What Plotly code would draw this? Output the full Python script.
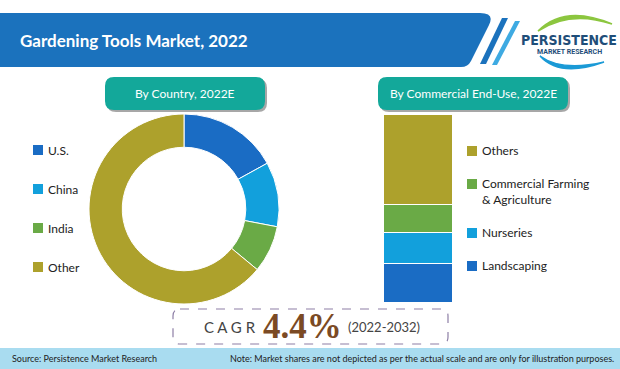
import plotly.graph_objects as go

W, H = 620, 369

# ---------------- data ----------------
country_labels = ["U.S.", "China", "India", "Other"]
country_values = [17, 11, 8, 64]
country_colors = ["#1a6cc4", "#12a0dc", "#6aaa46", "#ada12c"]

enduse_labels = ["Landscaping", "Nurseries", "Commercial Farming<br>& Agriculture", "Others"]
enduse_values = [21, 16, 15, 48]
enduse_colors = ["#1a6cc4", "#12a0dc", "#6aaa46", "#ada12c"]

title_text = "Gardening Tools Market, 2022"
tab1_text = "By Country, 2022E"
tab2_text = "By Commercial End-Use, 2022E"
cagr_value = "4.4%"
cagr_period = "(2022-2032)"
source_text = "Source: Persistence Market Research"
note_text = "Note: Market shares are not depicted as per the actual scale and are only for illustration purposes."


def X(px):
    return px / W


def Y(py):
    return 1 - py / H


def path(cmds):
    out = []
    for c in cmds:
        if isinstance(c, str):
            out.append(c)
        else:
            out.append(f"{X(c[0]):.5f},{Y(c[1]):.5f}")
    return " ".join(out)


def rrect(x0, y0, x1, y1, r):
    return path(["M", (x0 + r, y0), "L", (x1 - r, y0), "Q", (x1, y0), (x1, y0 + r),
                 "L", (x1, y1 - r), "Q", (x1, y1), (x1 - r, y1),
                 "L", (x0 + r, y1), "Q", (x0, y1), (x0, y1 - r),
                 "L", (x0, y0 + r), "Q", (x0, y0), (x0 + r, y0), "Z"])


fig = go.Figure()

# donut
fig.add_trace(go.Pie(
    labels=country_labels, values=country_values,
    marker=dict(colors=country_colors, line=dict(color="white", width=1)),
    hole=0.65, sort=False, direction="clockwise", rotation=0,
    textinfo="none", showlegend=False,
    domain=dict(x=[X(89), X(279)], y=[Y(304), Y(114)]),
))

# stacked bar
for lab, val, col in zip(enduse_labels, enduse_values, enduse_colors):
    fig.add_trace(go.Bar(
        x=[0], y=[val], name=lab, width=1,
        marker=dict(color=col, line=dict(color="white", width=1.5)),
        showlegend=False,
    ))

shapes = []
annotations = []

# header band
shapes.append(dict(type="path", xref="paper", yref="paper", layer="below",
                   path=path(["M", (0, 13), "L", (480, 13), "Q", (495, 13), (489, 25),
                              "L", (471, 61), "Q", (468, 67), (461, 67), "L", (0, 67), "Z"]),
                   fillcolor="#1b72bd", line=dict(width=0)))
# stripes
shapes.append(dict(type="path", xref="paper", yref="paper",
                   path=path(["M", (502, 18), "L", (508, 18), "L", (486, 64), "L", (480, 64), "Z"]),
                   fillcolor="#1b72bd", line=dict(width=0)))
shapes.append(dict(type="path", xref="paper", yref="paper",
                   path=path(["M", (515, 21), "L", (520, 21), "L", (497, 65), "L", (492, 65), "Z"]),
                   fillcolor="#3eaae2", line=dict(width=0)))

# logo arcs
shapes.append(dict(type="path", xref="paper", yref="paper",
                   path=path(["M", (538, 31), "Q", (565, 4), (612, 24), "Q", (570, 10), (538, 31), "Z"]),
                   fillcolor="#8cc63f", line=dict(color="#8cc63f", width=1.5)))
shapes.append(dict(type="path", xref="paper", yref="paper",
                   path=path(["M", (540, 56), "Q", (560, 78), (604, 62), "Q", (562, 72), (540, 56), "Z"]),
                   fillcolor="#1b9ad6", line=dict(color="#1b9ad6", width=1.5)))

# tabs
for (x0, x1, txt) in [(105, 265, tab1_text), (378, 568, tab2_text)]:
    shapes.append(dict(type="path", xref="paper", yref="paper",
                       path=rrect(x0 + 2, 79, x1 + 2, 112, 9),
                       fillcolor="rgba(60,60,60,0.45)", line=dict(width=0)))
    shapes.append(dict(type="path", xref="paper", yref="paper",
                       path=rrect(x0, 77, x1, 110, 9),
                       fillcolor="#13a89a", line=dict(width=0)))
    annotations.append(dict(x=X((x0 + x1) / 2), y=Y(93.5), xref="paper", yref="paper",
                            text=txt, showarrow=False, xanchor="center", yanchor="middle",
                            font=dict(family="Lato", size=12, color="white")))

# CAGR dashed box
shapes.append(dict(type="path", xref="paper", yref="paper",
                   path=rrect(173, 309, 448, 344, 7), fillcolor="rgba(0,0,0,0)",
                   line=dict(color="#8e7fa6", width=1.2, dash="dash")))

# footer
shapes.append(dict(type="rect", xref="paper", yref="paper", x0=0, x1=1, y0=0, y1=Y(348),
                   fillcolor="#a9dcf0", line=dict(width=0), layer="below"))

# left legend
left_rows = [150, 189, 228, 267]
for lab, col, yy in zip(country_labels, country_colors, left_rows):
    shapes.append(dict(type="rect", xref="paper", yref="paper",
                       x0=X(33), x1=X(43), y0=Y(yy + 5), y1=Y(yy - 5),
                       fillcolor=col, line=dict(width=0)))
    annotations.append(dict(x=X(46), y=Y(yy), xref="paper", yref="paper", text=lab,
                            showarrow=False, xanchor="left", yanchor="middle",
                            font=dict(family="Lato", size=12, color="#222")))

# right legend (top-to-bottom = reverse of stack order)
right_rows = [266, 233, 184, 151]
for lab, col, yy in zip(enduse_labels, enduse_colors, right_rows):
    shapes.append(dict(type="rect", xref="paper", yref="paper",
                       x0=X(467), x1=X(477), y0=Y(yy + 5), y1=Y(yy - 5),
                       fillcolor=col, line=dict(width=0)))
    annotations.append(dict(x=X(480), y=Y(yy - 10), xref="paper", yref="paper", text=lab,
                            showarrow=False, xanchor="left", yanchor="top", align="left",
                            font=dict(family="Lato", size=12, color="#222")))

# title
annotations.append(dict(x=X(18), y=Y(40), xref="paper", yref="paper", text=f"<b>{title_text}</b>",
                        showarrow=False, xanchor="left", yanchor="middle",
                        font=dict(family="Lato", size=17, color="white")))

# logo text
annotations.append(dict(x=X(569), y=Y(40), xref="paper", yref="paper", text="<b>PERSISTENCE</b>",
                        showarrow=False, xanchor="center", yanchor="middle",
                        font=dict(family="DejaVu Sans Condensed, Roboto", size=14, color="#1f4e79")))
annotations.append(dict(x=X(569), y=Y(52), xref="paper", yref="paper", text="<b>MARKET RESEARCH</b>",
                        showarrow=False, xanchor="center", yanchor="middle",
                        font=dict(family="Roboto", size=7, color="#1f4e79")))

# CAGR text
annotations.append(dict(x=X(230), y=Y(327), xref="paper", yref="paper", text="C A G R",
                        showarrow=False, xanchor="center", yanchor="middle",
                        font=dict(family="Lato", size=15, color="#444")))
annotations.append(dict(x=X(302), y=Y(326), xref="paper", yref="paper", text=f"<b>{cagr_value}</b>",
                        showarrow=False, xanchor="center", yanchor="middle",
                        font=dict(family="Liberation Serif", size=35, color="#7b4a24")))
annotations.append(dict(x=X(346), y=Y(327), xref="paper", yref="paper", text=cagr_period,
                        showarrow=False, xanchor="left", yanchor="middle",
                        font=dict(family="Lato", size=13, color="#444")))

# footer text
annotations.append(dict(x=X(10), y=Y(358.5), xref="paper", yref="paper", text=source_text,
                        showarrow=False, xanchor="left", yanchor="middle",
                        font=dict(family="Lato", size=9, color="#222")))
annotations.append(dict(x=X(616), y=Y(358.5), xref="paper", yref="paper", text=note_text,
                        showarrow=False, xanchor="right", yanchor="middle",
                        font=dict(family="Lato", size=9, color="#222")))

fig.update_layout(
    width=W, height=H, margin=dict(l=0, r=0, t=0, b=0),
    paper_bgcolor="white", plot_bgcolor="rgba(0,0,0,0)",
    barmode="stack", bargap=0,
    xaxis=dict(domain=[X(384), X(453)], range=[-0.5, 0.5], visible=False, fixedrange=True),
    yaxis=dict(domain=[Y(303), Y(115)], range=[0, sum(enduse_values)], visible=False, fixedrange=True),
    shapes=shapes, annotations=annotations,
)

fig.write_html("out.html", config=dict(displayModeBar=False),
               post_script="document.body.style.margin='0';document.body.style.overflow='hidden';")
